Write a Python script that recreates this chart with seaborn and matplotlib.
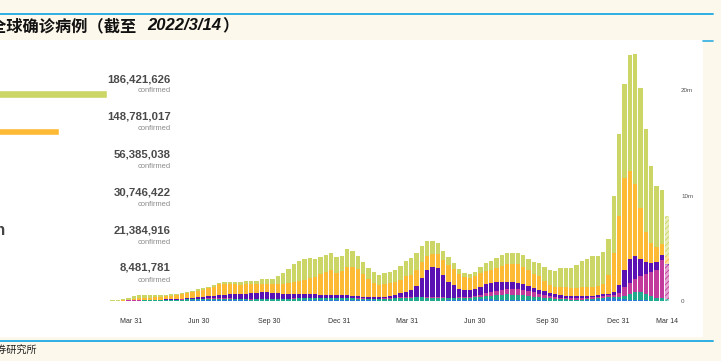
import numpy as np
import pandas as pd
import matplotlib.pyplot as plt
from matplotlib.patches import Rectangle
from matplotlib.lines import Line2D
import matplotlib.colors as mcolors
import seaborn as sns

# cumulative confirmed by WHO region
regions = ["Europe", "Americas", "South-East Asia", "Western Pacific",
           "Eastern Mediterranean", "Africa"]
confirmed = [186421626, 148781017, 56385038, 30746422, 21384916, 8481781]
region_colors = ["#cbd666", "#fdba35", "#5b10b4", "#c23a9b", "#1faa8e", "#2b7bd6"]

# weekly new cases (millions), first week of 2020 -> week to 2022/3/14
afr = [0, 0, 0, 0, 0, 0, 0, 0, 0, 0,
       0, 0, .002, .004, .006, .007, .008, .01, .012, .015,
       .02, .025, .03, .035, .04, .05, .06, .07, .08, .09,
       .1, .1, .09, .08, .06, .05, .04, .035, .03, .03,
       .03, .03, .03, .035, .04, .045, .05, .05, .05, .06,
       .07, .08, .09, .1, .11, .1, .08, .07, .06, .05,
       .04, .035, .03, .03, .03, .03, .03, .03, .03, .03,
       .035, .04, .045, .05, .06, .08, .1, .12, .14, .16,
       .17, .16, .14, .13, .12, .11, .1, .09, .08, .07,
       .06, .05, .04, .03, .02, .02, .02, .02, .03, .05,
       .1, .15, .22, .28, .25, .2, .15, .1, .08, .06,
       .05, .04, .03, .03, .02]
emr = [0, 0, 0, 0, 0, 0, 0, .001, .003, .008,
       .015, .02, .025, .03, .035, .04, .045, .05, .055, .06,
       .07, .08, .09, .1, .11, .12, .13, .13, .13, .12,
       .12, .11, .11, .1, .1, .1, .1, .11, .12, .13,
       .14, .15, .16, .17, .18, .2, .21, .2, .19, .18,
       .17, .16, .15, .15, .15, .15, .14, .14, .14, .15,
       .16, .18, .2, .23, .26, .28, .3, .31, .31, .3,
       .28, .25, .22, .2, .18, .17, .17, .18, .2, .24,
       .3, .36, .42, .47, .5, .5, .48, .44, .4, .35,
       .3, .26, .22, .18, .15, .13, .12, .11, .11, .1,
       .1, .1, .1, .1, .12, .2, .35, .55, .75, .8,
       .6, .42, .3, .25, .2]
wpr = [0, 0, 0, .005, .015, .025, .03, .02, .01, .008,
       .008, .01, .012, .015, .015, .012, .01, .008, .007, .007,
       .008, .01, .01, .012, .015, .018, .02, .025, .03, .035,
       .04, .045, .045, .04, .035, .03, .028, .025, .024, .022,
       .02, .02, .02, .02, .022, .025, .03, .035, .04, .045,
       .05, .055, .06, .065, .07, .065, .055, .045, .035, .03,
       .028, .03, .035, .04, .05, .06, .065, .07, .07, .065,
       .06, .065, .07, .075, .08, .09, .1, .12, .15, .2,
       .28, .36, .42, .48, .52, .55, .55, .5, .45, .4,
       .33, .27, .22, .18, .15, .14, .14, .15, .17, .18,
       .17, .16, .15, .16, .2, .4, .8, 1.1, 1.3, 1.5,
       1.9, 2.3, 2.65, 3.6, 3.2]
sear = [0, 0, 0, 0, 0, 0, 0, 0, 0, .001,
        .002, .004, .006, .01, .012, .015, .02, .025, .03, .04,
        .05, .06, .07, .08, .1, .12, .14, .16, .2, .24,
        .3, .34, .38, .43, .48, .53, .58, .62, .65, .64,
        .6, .55, .5, .45, .42, .4, .38, .36, .34, .32,
        .3, .28, .26, .24, .22, .2, .18, .17, .16, .15,
        .15, .17, .2, .26, .38, .45, .65, 1.0, 1.75, 2.55,
        2.85, 2.8, 2.15, 1.5, 1.15, .82, .68, .6, .62, .72,
        .82, .85, .8, .72, .66, .62, .58, .54, .5, .45,
        .4, .34, .28, .24, .21, .19, .18, .17, .16, .16,
        .15, .15, .15, .17, .3, .75, 1.6, 2.2, 2.1, 1.6,
        1.1, .85, .73, .46, .1]
amr = [0, 0, 0, 0, 0, 0, 0, 0, 0, .001,
       .005, .01, .03, .08, .16, .2, .22, .23, .24, .26,
       .3, .34, .38, .44, .47, .56, .64, .685, .78, .885,
       1.02, 1.025, .975, .96, .855, .88, .88, .79, .826, .818,
       .8, .87, .91, 1.025, 1.14, 1.2, 1.33, 1.495, 1.63, 1.945,
       2.17, 2.345, 2.13, 2.315, 2.68, 2.705, 2.545, 2.155, 1.715, 1.34,
       1.102, 1.205, 1.205, 1.23, 1.3, 1.52, 1.445, 1.51, 1.5, 1.345,
       1.265, 1.315, 1.385, 1.615, 1.55, 1.39, 1.19, 1.19, 1.24, 1.35,
       1.25, 1.21, 1.38, 1.56, 1.67, 1.7, 1.77, 1.69, 1.47, 1.33,
       1.28, .97, .78, .74, .82, .83, .75, .76, .82, .82,
       .85, .84, 1.0, 1.74, 3.7, 6.55, 8.8, 8.4, 6.9, 4.85,
       2.85, 1.9, 1.42, 1.1, .75]
eur = [0, 0, 0, 0, 0, 0, .001, .002, .005, .015,
       .04, .04, .08, .14, .24, .27, .247, .227, .196, .168,
       .132, .115, .11, .123, .115, .112, .12, .13, .14, .15,
       .16, .18, .2, .22, .24, .27, .3, .35, .4, .45,
       .5, .75, 1.0, 1.3, 1.7, 1.95, 2.0, 1.9, 1.7, 1.65,
       1.6, 1.6, 1.45, 1.4, 1.7, 1.55, 1.3, 1.15, 1.05, 1.0,
       .95, 1.0, 1.05, 1.15, 1.3, 1.45, 1.55, 1.6, 1.55, 1.4,
       1.2, 1.0, .9, .7, .55, .45, .38, .35, .4, .55,
       .75, .85, .95, 1.0, 1.05, 1.1, 1.1, 1.1, 1.05, 1.1,
       1.2, 1.3, 1.4, 1.5, 1.75, 1.85, 1.95, 2.2, 2.5, 2.7,
       2.9, 2.9, 3.0, 3.4, 5.43, 7.7, 8.9, 10.95, 12.27, 11.39,
       9.8, 7.29, 5.77, 5.06, 3.83]

tick_pos = [13.4, 26.2, 39.3, 52.6, 65.2, 78.0, 91.5, 104.8, 114]
tick_labels = ["Mar 31", "Jun 30", "Sep 30", "Dec 31", "Mar 31",
               "Jun 30", "Sep 30", "Dec 31", "Mar 14"]

sns.set_theme(style="white")
plt.rcParams["font.family"] = ["Liberation Sans", "DejaVu Sans"]
plt.rcParams["hatch.linewidth"] = 0.6

W, H = 721, 361
def fx(px):
    return px / W
def fy(py):
    return 1 - py / H

beige = "#fdf8ec"
blue_line = "#2eaee4"
fig = plt.figure(figsize=(W / 100, H / 100), dpi=100, facecolor=beige)

# white panel and blue rules
fig.add_artist(Rectangle((0, fy(337)), fx(703), fy(40) - fy(337),
                         transform=fig.transFigure, facecolor="white",
                         edgecolor="none", zorder=0))
fig.add_artist(Line2D([0, fx(713)], [fy(14), fy(14)], transform=fig.transFigure,
                      color=blue_line, lw=1.4))
fig.add_artist(Line2D([0, fx(713)], [fy(341), fy(341)], transform=fig.transFigure,
                      color=blue_line, lw=1.4))
fig.add_artist(Line2D([fx(703), fx(713)], [fy(40.5), fy(40.5)], transform=fig.transFigure,
                      color=blue_line, lw=1.2))

# title (its left edge is cut off in the screenshot)
cjk = ["Noto Sans CJK SC", "DejaVu Sans"]
fig.text(fx(-10), fy(26), "全球确诊病例（截至 ", family=cjk,
         fontsize=11.7, fontweight="bold", color="#111111", ha="left", va="center")
fig.text(fx(147), fy(26), "2022/3/14", family="Liberation Sans", fontsize=12,
         fontweight="bold", style="italic", color="#111111", ha="left", va="center")
fig.text(fx(222), fy(26), "）", family=cjk,
         fontsize=11.7, fontweight="bold", color="#111111", ha="left", va="center")
fig.text(fx(37), fy(351), "证券研究所", family=cjk,
         fontsize=7.3, color="#222222", ha="right", va="center")

# ---- left panel: totals by region ----
axl = fig.add_axes([fx(-131), fy(300), fx(107) - fx(-131), fy(60) - fy(300)])
axl.set_facecolor("none")
df_tot = pd.DataFrame({"region": regions, "m": np.array(confirmed) / 1e6})
sns.barplot(data=df_tot, x="m", y="region", hue="region", palette=region_colors,
            orient="h", width=0.19, saturation=1, legend=False, ax=axl)
axl.set_xlim(0, confirmed[0] / 1e6)
axl.set_ylim(5.45, -0.9)
axl.axis("off")

for k, val in enumerate(confirmed):
    yk = 79 + 37.8 * k
    fig.text(fx(171), fy(yk), f"{val:,}", ha="right", va="center", fontsize=8.2,
             fontweight="bold", color="#4a4a4a")
    fig.text(fx(171), fy(yk + 12), "confirmed", ha="right", va="center",
             fontsize=5.4, color="#8a8a8a")

# only the tail of the longest region name reaches into the screenshot
k_long = regions.index("Eastern Mediterranean")
name = fig.text(0, fy(79 + 37.8 * k_long), regions[k_long], ha="right", va="center",
                fontsize=12, fontweight="bold", color="#444444")
name.set_x(fx(5))

# ---- right panel: weekly stacked bars ----
ax = fig.add_axes([fx(55), fy(301), fx(678) - fx(55), fy(45) - fy(301)])
ax.set_facecolor("none")
layers = np.array([afr, emr, wpr, sear, amr, eur])
cum = np.cumsum(layers, axis=0)
weeks = np.arange(layers.shape[1])
stack_colors = [region_colors[5], region_colors[4], region_colors[3],
                region_colors[2], region_colors[1], region_colors[0]]
for k in range(len(layers) - 1, -1, -1):
    sns.barplot(x=weeks, y=cum[k], color=stack_colors[k], saturation=1,
                width=0.82, linewidth=0, errorbar=None, ax=ax)
    last = ax.containers[-1].patches[-1]
    c = mcolors.to_rgb(stack_colors[k])
    light = tuple(0.55 + 0.45 * v for v in c)
    last.set_facecolor(light)
    last.set_edgecolor(c)
    last.set_hatch("//////")
    last.set_linewidth(0)

ax.set_xlim(-0.8, 116.06)
ax.set_ylim(0, 24.27)
ax.set_xticks(tick_pos)
ax.set_xticklabels(tick_labels)
ax.yaxis.tick_right()
ax.set_yticks([0, 10, 20])
ax.set_yticklabels(["0", "10m", "20m"])
ax.tick_params(axis="x", length=0, pad=12, labelsize=5, labelcolor="#333333")
ax.tick_params(axis="y", length=0, pad=2.2, labelsize=4.5, labelcolor="#555555")
ax.set_xlabel("")
ax.set_ylabel("")
for s in ax.spines.values():
    s.set_visible(False)

fig.savefig("out.png", dpi=100, facecolor=beige)
